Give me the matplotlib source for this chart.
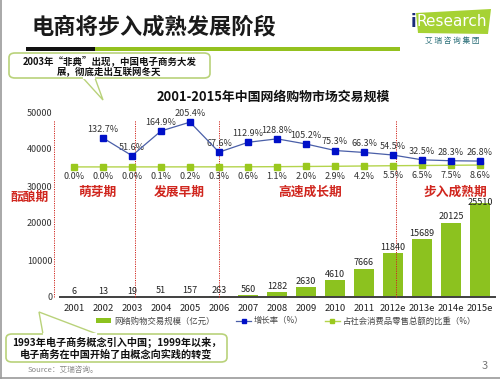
import matplotlib
matplotlib.use("Agg")
import matplotlib.pyplot as plt
from matplotlib.patches import FancyBboxPatch, Polygon, Rectangle
from matplotlib.lines import Line2D
from matplotlib.patches import Patch

plt.rcParams['font.family'] = ['Noto Sans CJK SC', 'DejaVu Sans']

# ---------------- data ----------------
years = ['2001', '2002', '2003', '2004', '2005', '2006', '2007', '2008',
         '2009', '2010', '2011', '2012e', '2013e', '2014e', '2015e']
volume = [6, 13, 19, 51, 157, 263, 560, 1282, 2630, 4610, 7666, 11840,
          15689, 20125, 25510]
growth = [None, 132.7, 51.6, 164.9, 205.4, 67.6, 112.9, 128.8, 105.2,
          75.3, 66.3, 54.5, 32.5, 28.3, 26.8]
share = [0.0, 0.0, 0.0, 0.1, 0.2, 0.3, 0.6, 1.1, 2.0, 2.9, 4.2, 5.5,
         6.5, 7.5, 8.6]
yticks = [0, 10000, 20000, 30000, 40000, 50000]
phases = ['酝酿期', '萌芽期', '发展早期', '高速成长期', '步入成熟期']
phase_x = [-1.55, 0.79, 3.62, 8.14, 13.14]
phase_bounds = [-0.69, 2.1, 5.0, 11.12]

legend_labels = ['网络购物交易规模（亿元）', '增长率（%）', '占社会消费品零售总额的比重（%）']

W, H = 500, 379
fig = plt.figure(figsize=(W / 100, H / 100), dpi=100)
fig.patch.set_facecolor('white')


def fx(x):
    return x / W


def fy(y):
    return 1 - y / H


BAR_C = '#8cc21f'
BLUE_L = '#4a5fa8'
BLUE_M = '#0010c8'
GREEN_L = '#b4d44c'
GREEN_M = '#9ac81e'
RED = '#d0261e'
CALLOUT = '#b9d27a'

# ---------------- axes ----------------
ax = fig.add_axes([fx(59.5), fy(297), fx(494.5) - fx(59.5), fy(112) - fy(297)])
x = list(range(len(years)))
ax.bar(x, volume, width=0.66, color=BAR_C, zorder=2)
ax.set_xlim(-0.5, len(years) - 0.5)
ax.set_ylim(0, 50000)
ax.set_yticks(yticks)
ax.set_yticklabels([str(v) for v in yticks], fontsize=6.5, color='#333333')
ax.set_xticks(x)
ax.set_xticklabels(years, fontsize=6.8, color='#222222')
ax.tick_params(axis='both', length=0)
ax.tick_params(axis='x', pad=5)
ax.tick_params(axis='y', pad=5)
for s in ['top', 'right', 'left']:
    ax.spines[s].set_visible(False)
ax.spines['bottom'].set_color('#404040')
ax.spines['bottom'].set_linewidth(1.4)
ax.patch.set_alpha(0)

n_bars = len(volume)
for i, (xi, v) in enumerate(zip(x, volume)):
    off = -3.5 if i == n_bars - 1 else 1.0
    ax.annotate(str(v), (xi, v), xytext=(0, off), textcoords='offset points',
                ha='center', va='bottom', fontsize=6.5, color='#222222', zorder=5)

# phase separators
for b in phase_bounds:
    ax.plot([b, b], [0, 47800], color=RED, lw=0.7, ls=(0, (1.2, 1.2)),
            clip_on=False, zorder=3)
for i, (px, lab) in enumerate(zip(phase_x, phases)):
    py = 26900 if i == 0 else 28300
    ax.text(px, py, lab, ha='center', va='center', fontsize=9.2,
            fontweight='bold', color=RED, clip_on=False)

# secondary axis for percentages
ax2 = ax.twinx()
ax2.set_ylim(-597, 252)
ax2.axis('off')
gx = x[1:]
gv = growth[1:]
ax2.plot(x, share, color=GREEN_L, lw=1.0, marker='s', ms=4,
         mfc=GREEN_M, mec=GREEN_M, zorder=4)
ax2.plot(gx, gv, color=BLUE_L, lw=0.9, marker='s', ms=4,
         mfc=BLUE_M, mec=BLUE_M, zorder=5)
for xi, v in zip(gx, gv):
    ax2.annotate(f'{v:.1f}%', (xi, v), xytext=(0, 3), textcoords='offset points',
                 ha='center', va='bottom', fontsize=6.5, color='#333333')
for xi, v in zip(x, share):
    ax2.annotate(f'{v:.1f}%', (xi, v), xytext=(0, -4), textcoords='offset points',
                 ha='center', va='top', fontsize=6.5, color='#333333')

# legend
handles = [Patch(facecolor=BAR_C, edgecolor='none'),
           Line2D([], [], color=BLUE_L, lw=0.9, marker='s', ms=3,
                  mfc=BLUE_M, mec=BLUE_M),
           Line2D([], [], color=GREEN_L, lw=1.0, marker='s', ms=3,
                  mfc=GREEN_M, mec=GREEN_M)]
leg = fig.legend(handles, legend_labels, loc='center', ncol=3,
                 bbox_to_anchor=(fx(286), fy(321)), frameon=False,
                 fontsize=6, handlelength=1.8, handleheight=0.45,
                 handletextpad=0.3, columnspacing=2.6)
for t in leg.get_texts():
    t.set_color('#444444')

# ---------------- slide decorations ----------------
fig.text(fx(32), fy(27), '电商将步入成熟发展阶段', fontsize=16, fontweight='bold',
         color='#1a1a1a', ha='left', va='center')
fig.patches.append(Rectangle((fx(26), fy(51)), fx(95) - fx(26), fy(47) - fy(51),
                             transform=fig.transFigure, facecolor='#111111',
                             edgecolor='none'))
fig.patches.append(Rectangle((fx(95), fy(51)), fx(400) - fx(95), fy(47) - fy(51),
                             transform=fig.transFigure, facecolor='#94c11f',
                             edgecolor='none'))

# logo
logo = Polygon([(fx(416), fy(13)), (fx(491), fy(9)), (fx(488), fy(34)),
                (fx(418), fy(33))], closed=True, transform=fig.transFigure,
               facecolor='#a6d234', edgecolor='none')
fig.patches.append(logo)
fig.text(fx(413), fy(22), 'i', fontsize=12, color='#1b2a7a', fontweight='bold',
         ha='center', va='center', family='DejaVu Sans')
fig.text(fx(452), fy(22), 'Research', fontsize=11, color='white',
         ha='center', va='center', family='DejaVu Sans')
fig.text(fx(452), fy(41), '艾 瑞 咨 询 集 团', fontsize=5.5, color='#2a6e78',
         ha='center', va='center')

fig.text(fx(273), fy(97), '2001-2015年中国网络购物市场交易规模', fontsize=9.3,
         fontweight='bold', color='#111111', ha='center', va='center')


def callout(x0, y0, x1, y1, tail, lines, ys, fs):
    box = FancyBboxPatch((fx(x0), fy(y1)), fx(x1) - fx(x0), fy(y0) - fy(y1),
                         boxstyle='round,pad=0,rounding_size=0.012',
                         transform=fig.transFigure, facecolor='white',
                         edgecolor=CALLOUT, lw=1.2, zorder=10)
    fig.patches.append(box)
    tp = Polygon([(fx(a), fy(b)) for a, b in tail], closed=False,
                 transform=fig.transFigure, facecolor='white',
                 edgecolor=CALLOUT, lw=1.0, zorder=11)
    fig.patches.append(tp)
    (ax_, ay_), _, (bx_, by_) = tail
    fig.lines.append(Line2D([fx(ax_ + 0.8), fx(bx_ - 0.8)], [fy(ay_), fy(by_)],
                            transform=fig.transFigure, color='white', lw=1.6,
                            zorder=12))
    for ln, yy in zip(lines, ys):
        fig.text(fx((x0 + x1) / 2), fy(yy), ln, fontsize=fs, fontweight='bold',
                 color='#111111', ha='center', va='center', zorder=13)


callout(9, 53, 210, 78, [(83, 78), (103, 100), (95, 78)],
        ['2003年“非典”出现，中国电子商务大发', '展，彻底走出互联网冬天'],
        [60.5, 71.5], 6.8)
callout(6, 334, 227, 362, [(43, 334), (39, 312), (97, 334)],
        ['1993年电子商务概念引入中国；1999年以来，', '电子商务在中国开始了由概念向实践的转变'],
        [342.5, 354], 7.3)

fig.text(fx(28), fy(370), 'Source：艾瑞咨询。', fontsize=5.5, color='#888888',
         ha='left', va='center')
fig.text(fx(485), fy(366), '3', fontsize=8, color='#777777', ha='center',
         va='center')

# slide frame shadow (left and bottom)
fig.lines.append(Line2D([fx(1), fx(1)], [fy(0), fy(378)], transform=fig.transFigure,
                        color='#9a9a9a', lw=1.2))
fig.lines.append(Line2D([fx(0), fx(500)], [fy(377.5), fy(377.5)],
                        transform=fig.transFigure, color='#9a9a9a', lw=1.2))

fig.savefig('out.png', dpi=100)
